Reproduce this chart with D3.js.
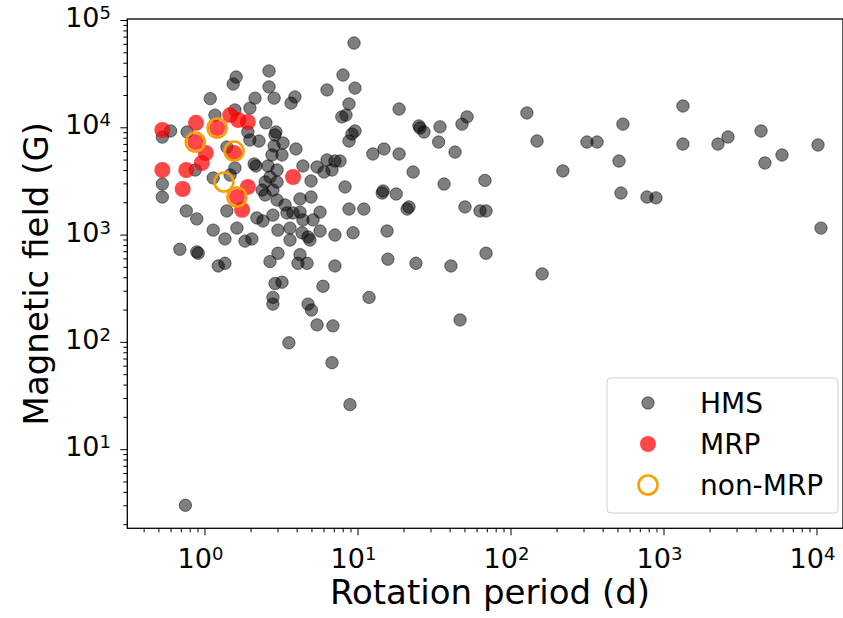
<!DOCTYPE html>
<html>
<head>
<meta charset="utf-8">
<script src="https://cdn.jsdelivr.net/npm/d3@7"></script>
<style>
  body { margin: 0; background: #fff; }
  svg { display: block; font-family: "DejaVu Sans", sans-serif; }
</style>
</head>
<body>
<div id="chart"></div>
<script>
// HMS stars: rotation period (d) and field (G)
const hmsPeriod = [
  0.53, 0.53, 0.53, 0.60, 0.69, 0.75, 0.76, 0.89, 0.89, 0.91,
  1.09, 1.17, 0.77, 0.87, 1.14, 1.14, 1.23, 1.36, 1.36, 1.40,
  1.63, 1.84, 2.04, 1.40, 1.47, 1.58, 1.61, 1.54, 2.64, 2.64,
  2.14, 2.85, 3.90, 3.68, 1.98, 1.58, 2.52, 1.92, 2.27, 1.98,
  2.93, 2.89, 8.04, 9.63, 6.32, 8.80, 18.7, 7.9, 8.41, 9.63,
  9.20, 8.80, 9.49, 2.85, 3.26, 3.96, 2.76, 3.21, 2.11, 2.17,
  2.60, 2.98, 2.68, 2.49, 2.98, 4.40, 5.44, 6.32, 7.12, 7.69,
  6.81, 6.04, 4.97, 8.29, 12.6, 14.9, 18.7, 23.1, 14.7, 14.5,
  17.9, 21.1, 21.7, 8.80, 11.0, 2.38, 2.80, 2.98, 2.49, 4.21,
  4.97, 3.36, 2.20, 2.41, 2.80, 3.46, 3.79, 4.21, 4.40, 5.12,
  5.69, 3.02, 3.62, 3.62, 4.34, 4.75, 4.89, 5.69, 7.12, 9.35,
  15.6, 15.8, 24.1, 3.02, 2.68, 4.21, 4.08, 4.68, 7.12, 2.89,
  3.21, 5.95, 2.80, 2.80, 4.75, 5.0, 11.9, 5.44, 6.91, 3.56,
  6.81, 8.93, 25.6, 27.2, 25.2, 34.6, 48.2, 52.0, 33.9, 43.4,
  36.8, 68.1, 50.4, 63.2, 69.2, 40.8, 69.2, 46.8, 128,
  149, 220, 161, 316, 368, 512, 527, 543, 780, 893,
  1340, 1340, 2270, 2640, 4340, 4600, 5950, 10230, 10700
];
const hmsField = [
  8100, 2960, 2240, 9240, 730, 3.0, 1660, 1400, 690, 670,
  18500, 13000, 9040, 4000, 3370, 1100, 510, 540, 910, 1660,
  1150, 870, 910, 6550, 3590, 4180, 29400, 25300, 33500, 23800,
  18700, 18700, 19200, 16800, 15100, 14500, 11000, 9040, 7450, 7620,
  9040, 8480, 30700, 23200, 22300, 16500, 14800, 12500, 13000, 9240,
  8660, 7450, 61000, 6690, 7140, 6280, 5520, 5520, 4550, 4360,
  4360, 4000, 3440, 3090, 3090, 4360, 4270, 4960, 4850, 4850,
  4000, 3830, 3160, 2780, 5640, 6280, 5640, 3830, 2550, 2440,
  2390, 1730, 1810, 1730, 1730, 2600, 2600, 2100, 2340, 2150,
  2240, 1890, 1430, 1340, 1520, 1590, 1590, 1620, 1370, 1370,
  1620, 1100, 1150, 890, 1040, 950, 890, 1080, 990, 1040,
  1080, 590, 540, 670, 560, 650, 540, 540, 510, 350,
  360, 330, 260, 225, 225, 198, 260, 144, 141, 98,
  64, 26, 9850, 9040, 10300, 10100, 10700, 12500, 7290, 5880,
  2960, 3200, 1810, 1660, 1660, 510, 670, 160, 13600,
  7450, 3920, 430, 7290, 7290, 4850, 2440, 10700, 2240, 2200,
  15800, 6980, 6980, 8120, 9240, 4650, 5520, 6840, 1150
];

// MRP stars
const mrpPeriod = [0.53, 0.53, 0.76, 0.72, 0.88, 0.87, 1.02, 0.96, 1.21, 1.47, 1.66, 1.92, 1.56, 1.92, 1.76, 3.79, 1.63];
const mrpField  = [9440, 4000, 4000, 2660, 11000, 7290, 5760, 4650, 9850, 13000, 11700, 11200, 5760, 2780, 1700, 3440, 2240];

// non-MRP stars
const nonPeriod = [1.21, 0.87, 1.56, 1.34, 1.63];
const nonField  = [9850, 7290, 6010, 3090, 2240];

const xTicks = [1, 10, 100, 1000, 10000];
const yTicks = [10, 100, 1000, 10000, 100000];
const legendLabels = ['HMS', 'MRP', 'non-MRP'];

const width = 843, height = 618;
const plot = { left: 127.3, right: 843, top: 19, bottom: 528.3 };

const x = d3.scaleLog().domain([0.3129, 14900]).range([plot.left, plot.right]);
const y = d3.scaleLog().domain([1.83, 102200]).range([plot.bottom, plot.top]);

const svg = d3.select('#chart').append('svg')
  .attr('width', width)
  .attr('height', height);

// minor ticks: 2..9 in every decade inside the domain
function minors(scale) {
  const [a, b] = scale.domain();
  const out = [];
  for (let e = Math.floor(Math.log10(a)); e <= Math.ceil(Math.log10(b)); e++) {
    for (let m = 2; m <= 9; m++) {
      const v = m * Math.pow(10, e);
      if (v >= a && v <= b) out.push(v);
    }
  }
  return out;
}

const gx = svg.append('g').attr('transform', `translate(0,${plot.bottom})`);
gx.call(d3.axisBottom(x).tickValues(xTicks).tickSize(7).tickFormat(''));
gx.call(g => g.append('g').call(d3.axisBottom(x).tickValues(minors(x)).tickSize(4).tickFormat('')));

const gy = svg.append('g').attr('transform', `translate(${plot.left},0)`);
gy.call(d3.axisLeft(y).tickValues(yTicks).tickSize(7).tickFormat(''));
gy.call(g => g.append('g').call(d3.axisLeft(y).tickValues(minors(y)).tickSize(4).tickFormat('')));

svg.selectAll('.domain').remove();
svg.selectAll('.tick line').attr('stroke', '#000').attr('stroke-width', 1);

// frame
svg.append('rect')
  .attr('x', plot.left).attr('y', plot.top)
  .attr('width', plot.right - plot.left).attr('height', plot.bottom - plot.top)
  .attr('fill', 'none').attr('stroke', '#000').attr('stroke-width', 1.3);

// power-of-ten labels
function powLabel(text, d) {
  text.append('tspan').text('10');
  text.append('tspan')
    .attr('dy', -8)
    .attr('font-size', 18)
    .text(Math.round(Math.log10(d)));
}

svg.append('g').selectAll('text').data(xTicks).join('text')
  .attr('x', d => x(d) - 4)
  .attr('y', 568)
  .attr('text-anchor', 'middle')
  .attr('font-size', 27)
  .attr('fill', '#000')
  .each(function(d) { powLabel(d3.select(this), d); });

svg.append('g').selectAll('text').data(yTicks).join('text')
  .attr('x', 111)
  .attr('y', d => y(d) + 7)
  .attr('text-anchor', 'end')
  .attr('font-size', 27)
  .attr('fill', '#000')
  .each(function(d) { powLabel(d3.select(this), d); });

// axis titles
svg.append('text')
  .attr('x', 490).attr('y', 604)
  .attr('text-anchor', 'middle')
  .attr('font-size', 34)
  .text('Rotation period (d)');

svg.append('text')
  .attr('transform', `translate(48,${(plot.top + plot.bottom) / 2}) rotate(-90)`)
  .attr('text-anchor', 'middle')
  .attr('font-size', 34)
  .text('Magnetic field (G)');

// points
const hms = hmsPeriod.map((p, i) => ({ p, b: hmsField[i] }));
const mrp = mrpPeriod.map((p, i) => ({ p, b: mrpField[i] }));
const non = nonPeriod.map((p, i) => ({ p, b: nonField[i] }));

svg.append('g').selectAll('circle').data(hms).join('circle')
  .attr('cx', d => x(d.p)).attr('cy', d => y(d.b)).attr('r', 6.2)
  .attr('fill', 'rgba(0,0,0,0.5)')
  .attr('stroke', 'rgba(0,0,0,0.5)').attr('stroke-width', 1);

svg.append('g').selectAll('circle').data(mrp).join('circle')
  .attr('cx', d => x(d.p)).attr('cy', d => y(d.b)).attr('r', 8)
  .attr('fill', 'rgba(255,0,0,0.72)');

svg.append('g').selectAll('circle').data(non).join('circle')
  .attr('cx', d => x(d.p)).attr('cy', d => y(d.b)).attr('r', 9.5)
  .attr('fill', 'none')
  .attr('stroke', '#f5a000').attr('stroke-width', 2.6);

// legend
const lg = svg.append('g');
lg.append('rect')
  .attr('x', 607).attr('y', 378).attr('width', 231).attr('height', 135)
  .attr('rx', 4)
  .attr('fill', 'rgba(255,255,255,0.85)')
  .attr('stroke', '#d0d0d0').attr('stroke-width', 1);

const rows = lg.selectAll('g.row').data(legendLabels).join('g')
  .attr('class', 'row')
  .attr('transform', (d, i) => `translate(648,${403 + i * 41})`);

rows.append('circle')
  .attr('r', (d, i) => [6.2, 8, 9.5][i])
  .attr('fill', (d, i) => ['rgba(0,0,0,0.5)', 'rgba(255,0,0,0.72)', 'none'][i])
  .attr('stroke', (d, i) => ['rgba(0,0,0,0.5)', 'none', '#f5a000'][i])
  .attr('stroke-width', (d, i) => [1, 0, 2.6][i]);

rows.append('text')
  .attr('x', 52).attr('y', 10)
  .attr('font-size', 28)
  .text(d => d);
</script>
</body>
</html>
